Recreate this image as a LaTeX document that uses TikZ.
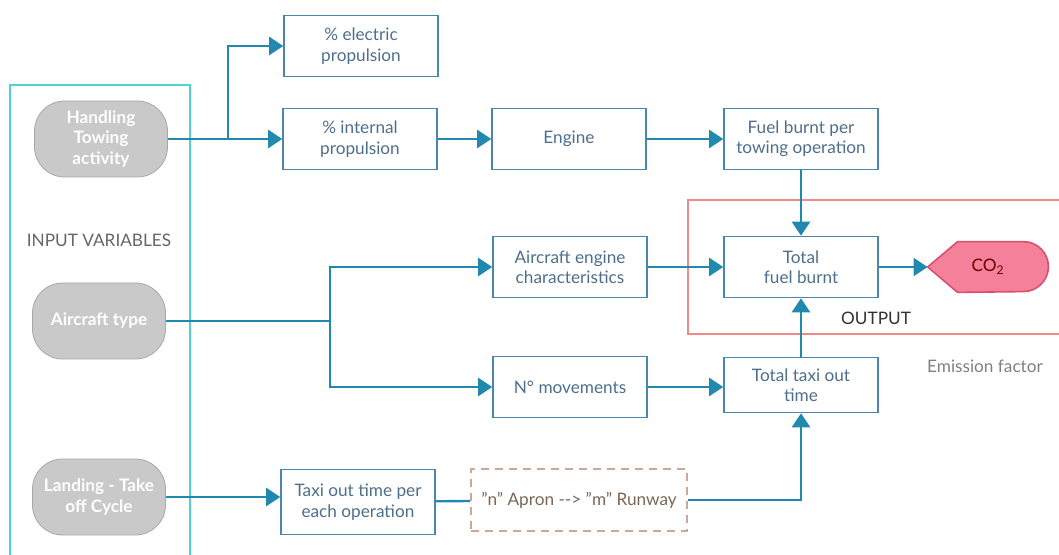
\documentclass[tikz,border=0pt]{standalone}
\usepackage{fontspec}
\setmainfont{Lato}
\usetikzlibrary{arrows.meta, calc}
\definecolor{linec}{HTML}{2289AE}
\definecolor{boxc}{HTML}{4A86AE}
\definecolor{textc}{HTML}{4D6E8C}
\definecolor{pillfill}{HTML}{C9C9C9}
\definecolor{pilldraw}{HTML}{A8A8A8}
\definecolor{cyanc}{HTML}{4FD3D3}
\definecolor{redc}{HTML}{EE8A8A}
\definecolor{co2fill}{HTML}{F5809A}
\definecolor{co2draw}{HTML}{D9506E}
\definecolor{dashc}{HTML}{C9A89A}
\definecolor{dashtext}{HTML}{7B6656}

\begin{document}
\begin{tikzpicture}[x=0.5pt, y=-0.5pt, font=\fontsize{8.6}{10.2}\selectfont,
    box/.style={draw=boxc, line width=0.8pt, text=textc, minimum width=77pt,
      minimum height=30.5pt, align=center, inner sep=2pt},
    pill/.style={draw=pilldraw, fill=pillfill, rounded corners=15pt, text=white,
      font=\fontsize{8.6}{10.2}\selectfont\bfseries, minimum width=66.5pt,
      minimum height=38pt, align=center},
    link/.style={draw=linec, line width=1.2pt},
    flow/.style={link, -{Triangle[length=7pt, width=9pt]}}]
      \useasboundingbox (0,0) rectangle (1059,555);
      \clip (0,0) rectangle (1059,555);

      % Frames for inputs and output
      \draw[cyanc, line width=1pt] (10,85) rectangle (190,570);
      \draw[redc, line width=0.6pt] (688,200) rectangle (1070,334);
      \node[text=black!60] (inlabel) at (99,240) {INPUT VARIABLES};
      \node[text=black!80] (outlabel) at (876,318) {OUTPUT};
      \node[text=black!50] (emission) at (985,366) {Emission factor};

      % Input variables
      \node[pill] (tow) at (101,139) {Handling\\Towing\\activity};
      \node[pill] (act) at (99,321) {Aircraft type};
      \node[pill] (lto) at (99,497) {Landing - Take\\off Cycle};

      % Process boxes
      \node[box] (elec) at (361,46) {\% electric\\propulsion};
      \node[box] (intp) at (360,139) {\% internal\\propulsion};
      \node[box] (eng) at (569,139) {Engine};
      \node[box] (fpt) at (801,139) {Fuel burnt per\\towing operation};
      \node[box] (aec) at (570,267) {Aircraft engine\\characteristics};
      \node[box] (tfb) at (801,267) {Total\\fuel burnt};
      \node[box] (nmov) at (570,387) {N° movements};
      \node[box, minimum height=27.5pt] (ttaxi) at (801,385) {Total taxi out\\time};
      \node[box, minimum height=32.5pt] (taxiop) at (358,502) {Taxi out time per\\each operation};
      \node[draw=dashc, line width=0.8pt, dash pattern=on 4pt off 3pt, text=dashtext,
        minimum width=108pt, minimum height=31pt] (apron) at (579,500)
        {\symbol{34}n\symbol{34} Apron -{}-{}> \symbol{34}m\symbol{34} Runway};

      % CO2 output shape
      \node[minimum width=60pt, minimum height=25pt] (co2) at (988,267) {};
      \draw[co2draw, fill=co2fill, line width=0.8pt] (co2.west)
        -- ($(co2.north west)+(15pt,0)$) -- ($(co2.north east)+(-12.5pt,0)$)
        arc[start angle=90, end angle=-90, radius=12.5pt]
        -- ($(co2.south west)+(15pt,0)$) -- cycle;
      \node[text=red!40!black] at (co2) {CO\textsubscript{2}};

      % Towing branch
      \coordinate (tsplit) at (228,139);
      \draw[link] (tow.east) -- (tsplit);
      \draw[flow] (tsplit) |- (elec.west);
      \draw[flow] (tsplit) -- (intp.west);
      \draw[flow] (intp) -- (eng);
      \draw[flow] (eng) -- (fpt);
      \draw[flow] (fpt) -- (tfb);

      % Aircraft type branch
      \coordinate (asplit) at (330,321);
      \draw[link] (act.east) -- (asplit);
      \draw[flow] (asplit) |- (aec.west);
      \draw[flow] (asplit) |- (nmov.west);
      \draw[flow] (aec) -- (tfb);
      \draw[flow] (nmov.east) -- (nmov.east -| ttaxi.west);
      \draw[flow] (ttaxi) -- (tfb);
      \draw[flow] (tfb) -- (co2.west);

      % LTO branch
      \draw[flow] (lto.east) -- (lto.east -| taxiop.west);
      \draw[link] (taxiop) -- (apron);
      \draw[flow] (apron.east) -| (ttaxi.south);
\end{tikzpicture}
\end{document}
